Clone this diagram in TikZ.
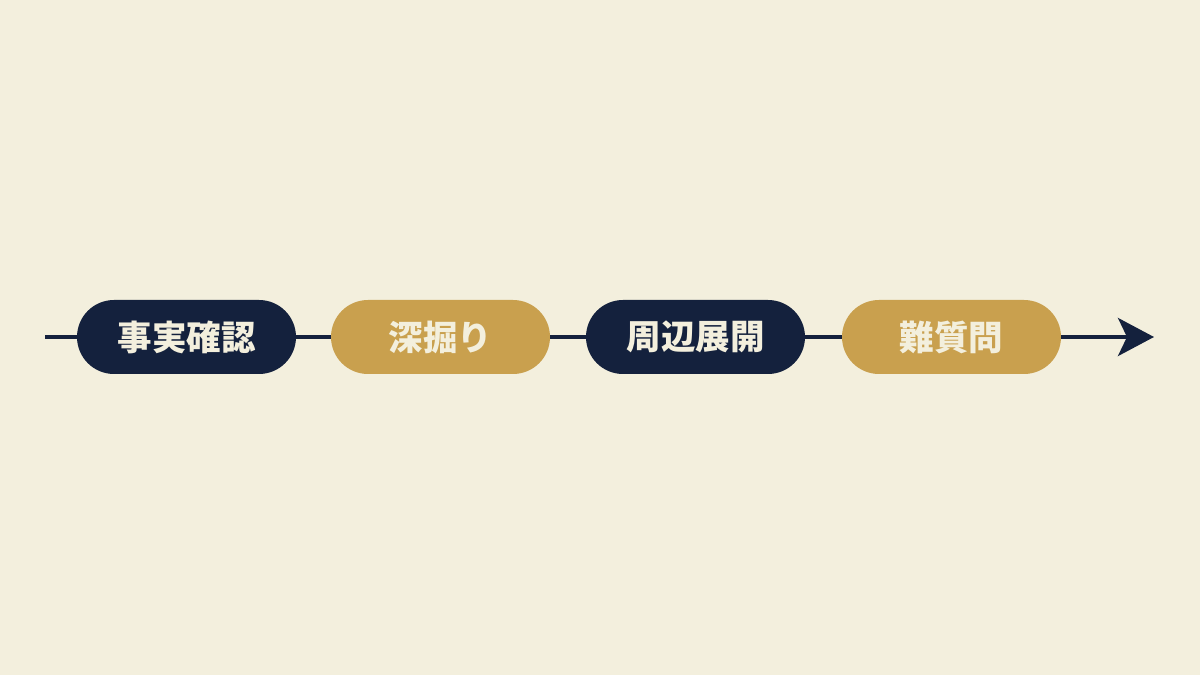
\documentclass[tikz,border=0pt]{standalone}
\usepackage{fontspec}
\newfontfamily\cjk{Noto Sans CJK JP}
\usetikzlibrary{arrows.meta}
\definecolor{bg}{HTML}{F3EFDD}
\definecolor{navy}{HTML}{14213D}
\definecolor{gold}{HTML}{C9A04E}
\definecolor{cream}{HTML}{F3EFDD}
\tikzset{
  pill/.style={rounded corners=37pt, minimum width=219pt, minimum height=74pt, inner sep=0pt, text=cream, font=\cjk\bfseries\fontsize{34.5}{34.5}\selectfont},
  navypill/.style={pill, fill=navy},
  goldpill/.style={pill, fill=gold},
  conn/.style={draw=navy, line width=4pt}
}
\begin{document}
\begin{tikzpicture}[x=1pt,y=1pt]
\fill[bg] (0,0) rectangle (1200,675);
\useasboundingbox (0,0) rectangle (1200,675);
\coordinate (s) at (45,338);
\coordinate (e) at (1154,338);
\node[navypill] (a) at (186.5,338) {事実確認};
\node[goldpill] (b) at (440.5,338) {深掘り};
\node[navypill] (c) at (695.5,338) {周辺展開};
\node[goldpill] (d) at (951.5,338) {難質問};
\draw[conn] (s) -- (a.west);
\draw[conn] (a.east) -- (b.west);
\draw[conn] (b.east) -- (c.west);
\draw[conn] (c.east) -- (d.west);
\draw[conn, -{Stealth[length=36pt,width=38pt,inset=9pt]}] (d.east) -- (e);
\end{tikzpicture}
\end{document}
